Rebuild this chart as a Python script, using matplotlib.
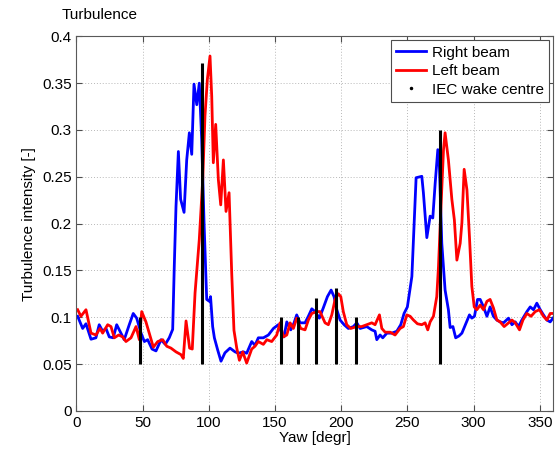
import numpy as np
import matplotlib as mpl
import matplotlib.pyplot as plt
from matplotlib.lines import Line2D

mpl.rcParams["font.family"] = "Liberation Sans"
mpl.rcParams["font.size"] = 11

# right beam (blue)
yaw_right = [0.9, 4.7, 7.2, 11, 14.7, 17.2, 19.8, 22.3, 24.8, 27.8, 30.4, 33.6, 36.1, 39.9, 42.9, 45.5,
             48.8, 51.3, 53.8, 57.1, 60.1, 63.9, 67.1, 70.1, 72.7, 73.9, 75.2, 77, 78.7, 81.3, 83.3, 85.3,
             87.1, 88.8, 90.9, 92.8, 94.6, 96.4, 98.4, 100.4, 101.3, 102.9, 104.2, 106.7, 109.2, 112.2,
             116, 119.8, 122.3, 126.1, 128.6, 132.4, 134.9, 137.4, 141.2, 145, 148.8, 152.5, 155.1, 156.8,
             158.9, 161.9, 164.4, 166.4, 168.9, 172.7, 175.2, 177.8, 180.3, 183.5, 186.5, 189.6, 192.4,
             194.6, 196.7, 199.2, 202.2, 205.4, 209.2, 211.8, 214.3, 219.3, 223.1, 225.6, 226.9, 229.4,
             231.4, 234.5, 238.2, 242, 245, 247.5, 250, 251.5, 253.4, 256.6, 260.9, 262.1, 264.7, 267.2,
             269.2, 271, 273, 274.2, 276, 278.5, 281, 282.3, 284.4, 286.5, 289, 291.2, 294.4, 296.9,
             298.7, 300.7, 303, 305, 307.5, 310.1, 312.5, 315, 317.6, 320.1, 322.6, 326.4, 329, 331.5,
             334, 336.5, 340.3, 342.8, 345.3, 347.8, 350.4, 352.8, 355.4, 357.9, 360]
ti_right = [0.101, 0.088, 0.093, 0.0765, 0.078, 0.092, 0.085, 0.088, 0.079, 0.078, 0.092, 0.083, 0.076,
            0.092, 0.104, 0.099, 0.083, 0.074, 0.076, 0.066, 0.064, 0.076, 0.071, 0.078, 0.087, 0.154,
            0.218, 0.277, 0.226, 0.212, 0.268, 0.297, 0.274, 0.349, 0.327, 0.350, 0.290, 0.201, 0.119,
            0.117, 0.122, 0.090, 0.078, 0.065, 0.053, 0.062, 0.067, 0.063, 0.0615, 0.063, 0.0615, 0.074,
            0.070, 0.078, 0.078, 0.081, 0.088, 0.092, 0.083, 0.079, 0.095, 0.0865, 0.094, 0.1025, 0.094,
            0.094, 0.101, 0.109, 0.106, 0.099, 0.110, 0.122, 0.129, 0.122, 0.108, 0.097, 0.092, 0.088,
            0.090, 0.094, 0.088, 0.090, 0.0865, 0.085, 0.076, 0.081, 0.078, 0.083, 0.083, 0.085, 0.092,
            0.104, 0.111, 0.125, 0.1435, 0.249, 0.2505, 0.233, 0.185, 0.208, 0.206, 0.243, 0.279, 0.261,
            0.179, 0.129, 0.108, 0.089, 0.090, 0.078, 0.080, 0.083, 0.094, 0.1025, 0.099, 0.101, 0.119,
            0.119, 0.111, 0.101, 0.111, 0.101, 0.097, 0.095, 0.094, 0.099, 0.092, 0.095, 0.090, 0.097,
            0.106, 0.111, 0.108, 0.115, 0.108, 0.1025, 0.097, 0.095, 0.099]

# left beam (red)
yaw_left = [0.9, 3.4, 7.2, 11, 14.7, 17.8, 19.8, 23.6, 26.1, 28.6, 31.9, 34.9, 37.4, 41.2, 45, 47.5,
            49.3, 52.5, 55.6, 58.1, 61.4, 65.2, 68.2, 71.4, 75.2, 79, 80.7, 82.8, 85.5, 87.5, 89.6, 92.8,
            95.4, 97.1, 98.9, 100.9, 102.2, 103.4, 105.2, 107.2, 109, 111, 113, 115.3, 117.3, 119, 121.1,
            123.1, 125.6, 128.6, 132.4, 134.9, 137.4, 141.2, 143.8, 147.5, 151.3, 153.8, 156.3, 158.9,
            161.4, 163.9, 166.4, 169.4, 172.7, 175.2, 177.8, 181.5, 184, 187.8, 190.3, 192.9, 195.4,
            197.9, 199.7, 201.6, 204.2, 207.2, 211.8, 215.5, 219.3, 223.1, 225.6, 228.9, 230.7, 233.2,
            237, 240.7, 244.5, 247, 249.6, 252.1, 254.6, 257.6, 260.9, 263.4, 265.4, 267.2, 269.7, 272.2,
            273.5, 275.3, 277.3, 278.5, 281, 283.6, 285.5, 287.4, 289.9, 291.2, 292.9, 295, 296.9, 298.7,
            300.5, 302.5, 305, 307.5, 310.1, 312.5, 315, 317.6, 320.1, 323.1, 326.4, 329, 331.5, 334.7,
            337.3, 340.3, 343.4, 346.6, 349.8, 352.8, 355.4, 357.9, 360]
ti_left = [0.108, 0.101, 0.108, 0.083, 0.081, 0.088, 0.083, 0.092, 0.090, 0.078, 0.081, 0.079, 0.074,
           0.078, 0.090, 0.076, 0.106, 0.095, 0.080, 0.068, 0.074, 0.076, 0.069, 0.067, 0.063, 0.060,
           0.056, 0.096, 0.067, 0.066, 0.126, 0.183, 0.247, 0.315, 0.354, 0.379, 0.336, 0.265, 0.306,
           0.247, 0.220, 0.268, 0.213, 0.233, 0.147, 0.086, 0.067, 0.054, 0.063, 0.051, 0.066, 0.069,
           0.074, 0.071, 0.076, 0.074, 0.081, 0.094, 0.079, 0.081, 0.094, 0.088, 0.099, 0.088, 0.0865,
           0.097, 0.104, 0.106, 0.106, 0.094, 0.092, 0.1025, 0.119, 0.125, 0.122, 0.106, 0.092, 0.088,
           0.090, 0.090, 0.092, 0.094, 0.092, 0.1025, 0.088, 0.084, 0.084, 0.081, 0.088, 0.090, 0.1025,
           0.101, 0.097, 0.093, 0.092, 0.094, 0.0865, 0.095, 0.101, 0.122, 0.154, 0.215, 0.279, 0.297,
           0.268, 0.226, 0.204, 0.161, 0.179, 0.201, 0.258, 0.236, 0.186, 0.133, 0.111, 0.108, 0.113,
           0.108, 0.117, 0.119, 0.110, 0.097, 0.095, 0.090, 0.094, 0.097, 0.094, 0.0865, 0.097, 0.104,
           0.101, 0.106, 0.108, 0.101, 0.097, 0.104, 0.104]

# IEC wake centres
iec_yaw = [47.8, 94.9, 154.6, 167, 181.3, 196.1, 211.5, 274.8]
iec_top = [0.1, 0.372, 0.1, 0.1, 0.12, 0.131, 0.1, 0.3]
iec_bottom = 0.05

fig = plt.figure(figsize=(5.58, 4.49), dpi=100)
ax = fig.add_axes([0.137, 0.085, 0.854, 0.834])

ax.plot(yaw_right, ti_right, color="#0000ff", lw=2, label="Right beam")
ax.plot(yaw_left, ti_left, color="#ff0000", lw=2, label="Left beam")
ax.vlines(iec_yaw, iec_bottom, iec_top, color="k", lw=2.2)

ax.set_xlim(0, 360)
ax.set_ylim(0, 0.4)
ax.set_xticks(np.arange(0, 351, 50))
ax.set_yticks(np.arange(0, 0.401, 0.05))
ax.set_yticklabels(["0", "0.05", "0.1", "0.15", "0.2", "0.25", "0.3", "0.35", "0.4"])
ax.grid(True, linestyle=(0, (1, 2)), color="0.72", lw=0.7)
ax.set_axisbelow(True)
ax.tick_params(direction="in", top=True, right=True, length=4, color="0.3")
for s in ax.spines.values():
    s.set_color("0.35")
    s.set_linewidth(0.8)

ax.set_xlabel("Yaw [degr]", labelpad=1)
ax.set_ylabel("Turbulence intensity [-]", labelpad=4)
fig.text(62 / 558, 1 - 15 / 449, "Turbulence", ha="left", va="center", fontsize=11)

handles, labels = ax.get_legend_handles_labels()
handles.append(Line2D([], [], color="k", marker=".", ms=3, ls="none"))
labels.append("IEC wake centre")
leg = ax.legend(handles, labels, loc="upper right", fancybox=False, framealpha=1,
                edgecolor="0.3", borderaxespad=0.25, handlelength=2.0, borderpad=0.35,
                labelspacing=0.3, handletextpad=0.35)
leg.get_frame().set_linewidth(0.8)

fig.savefig("out.png", dpi=100)
